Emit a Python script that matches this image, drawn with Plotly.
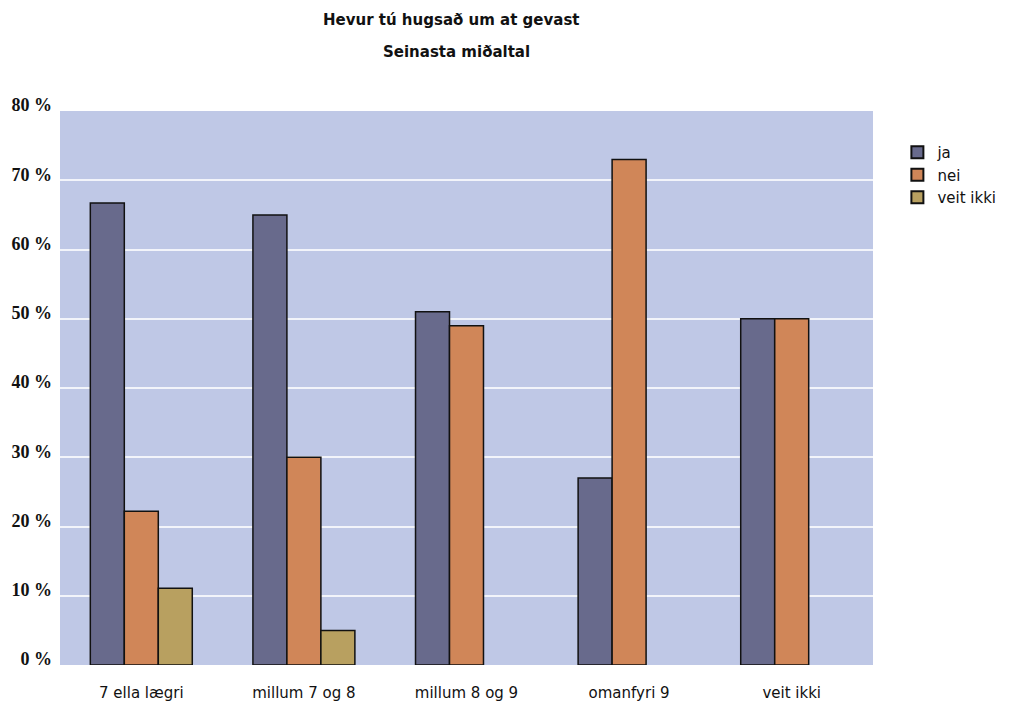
import plotly.graph_objects as go

categories = ["7 ella lægri", "millum 7 og 8", "millum 8 og 9", "omanfyri 9", "veit ikki"]
ja = [66.7, 65.0, 51.0, 27.0, 50.0]
nei = [22.2, 30.0, 49.0, 73.0, 50.0]
veit_ikki = [11.1, 5.0, None, None, None]
series_names = ["ja", "nei", "veit ikki"]
colors = ["#686A8C", "#D08658", "#B8A060"]
y_ticks = [0, 10, 20, 30, 40, 50, 60, 70, 80]

fig = go.Figure()
for name, vals, col in zip(series_names, [ja, nei, veit_ikki], colors):
    fig.add_trace(go.Bar(
        x=categories, y=vals, name=name,
        marker=dict(color=col, line=dict(color="#111111", width=1.5)),
    ))

# page body has an 8px margin; compensate
OFF = 8
W, H = 1012 - OFF, 702 - OFF
L, T = 60 - OFF, 111 - OFF
R = W - (873 - OFF)
B = H - (665 - OFF)

fig.update_layout(
    width=W, height=H,
    margin=dict(l=L, r=R, t=T, b=B, autoexpand=False),
    paper_bgcolor="white",
    plot_bgcolor="#BFC8E6",
    barmode="group",
    bargap=0.373,
    bargroupgap=0,
    showlegend=True,
    legend=dict(
        x=1.03, y=0.955, xanchor="left", yanchor="top",
        font=dict(family="DejaVu Sans, Liberation Sans", size=15, color="#111111"),
        bgcolor="rgba(0,0,0,0)",
        tracegroupgap=0,
        itemsizing="constant",
    ),
    font=dict(family="DejaVu Sans, Liberation Sans", color="#111111"),
)

fig.update_yaxes(
    range=[0, 80],
    tickvals=y_ticks,
    ticktext=[f"{v} %" for v in y_ticks],
    showgrid=True, gridcolor="#F2F4FA", gridwidth=1.5,
    zeroline=False, showline=False,
    tickfont=dict(family="Liberation Serif, Times New Roman", size=18, color="#111111", weight="bold"),
    ticklabelstandoff=7,
    ticklabelshift=-6,
    automargin=False,
)
fig.update_xaxes(
    showgrid=False, showline=False,
    tickfont=dict(family="DejaVu Sans, Liberation Sans", size=15, color="#111111"),
    ticklabelstandoff=17,
    automargin=False,
)

PW, PH = W - L - R, H - T - B
fig.add_annotation(text="<b>Hevur tú hugsað um at gevast</b>", xref="paper", yref="paper",
                   x=(451 - OFF - L) / PW, y=1 + (T - (20 - OFF)) / PH,
                   showarrow=False, xanchor="center", yanchor="middle",
                   font=dict(family="DejaVu Sans, Liberation Sans", size=15, color="#111111"))
fig.add_annotation(text="<b>Seinasta miðaltal</b>", xref="paper", yref="paper",
                   x=(456 - OFF - L) / PW, y=1 + (T - (52 - OFF)) / PH,
                   showarrow=False, xanchor="center", yanchor="middle",
                   font=dict(family="DejaVu Sans, Liberation Sans", size=15, color="#111111"))

fig.write_html("out.html")
